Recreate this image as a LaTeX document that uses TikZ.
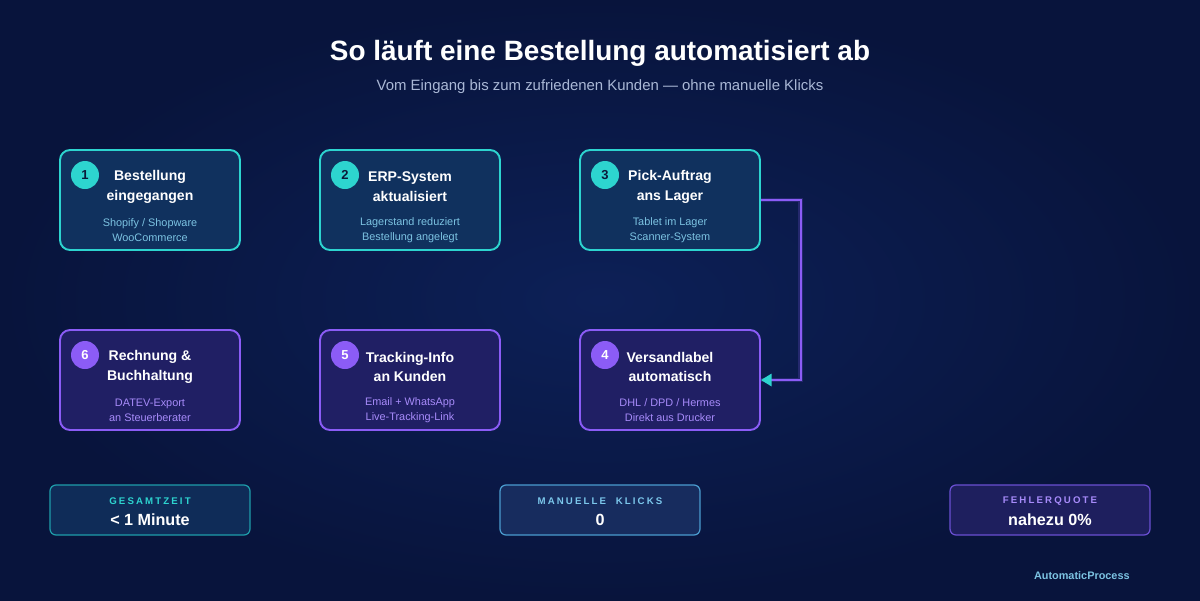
\documentclass[tikz,border=0pt]{standalone}
\usepackage{fontspec}
\setmainfont{Liberation Sans}
\newfontfamily\spacedfont[LetterSpace=22]{Liberation Sans}
\usetikzlibrary{arrows.meta}
\definecolor{bginner}{HTML}{0D2057}
\definecolor{bgouter}{HTML}{08143C}
\definecolor{tealline}{HTML}{2DD4CF}
\definecolor{tealfill}{HTML}{10315E}
\definecolor{tealtext}{HTML}{7CC3E2}
\definecolor{purpline}{HTML}{8B5CF6}
\definecolor{purpfill}{HTML}{201F64}
\definecolor{purptext}{HTML}{A78BFA}
\definecolor{navytext}{HTML}{0B1A3A}
\definecolor{subtitle}{HTML}{AAB8D6}
\definecolor{midline}{HTML}{4A9CCF}
\definecolor{midfill}{HTML}{172C5E}
\definecolor{midtext}{HTML}{7CC8EC}
\definecolor{statteal}{HTML}{1E9DAA}
\definecolor{stattealfill}{HTML}{0F2C58}
\definecolor{statpurp}{HTML}{6A4FD2}
\definecolor{statpurpfill}{HTML}{1E1F5E}
\pgfdeclarelayer{edgelayer}
\pgfdeclarelayer{nodelayer}
\pgfsetlayers{edgelayer,main,nodelayer}
\tikzstyle{tealbox}=[draw=tealline, fill=tealfill, line width=1.1pt, rounded corners=5.7pt, minimum width=3.6cm, minimum height=2cm]
\tikzstyle{purpbox}=[draw=purpline, fill=purpfill, line width=1.1pt, rounded corners=5.7pt, minimum width=3.6cm, minimum height=2cm]
\tikzstyle{tealbadge}=[circle, fill=tealline, minimum size=0.56cm, inner sep=0pt, text=navytext, font=\fontsize{7.4}{8}\selectfont\bfseries]
\tikzstyle{purpbadge}=[circle, fill=purpline, minimum size=0.56cm, inner sep=0pt, text=white, font=\fontsize{7.4}{8}\selectfont\bfseries]
\tikzstyle{boxtitle}=[align=center, inner sep=0pt, text=white, font=\fontsize{8.0}{11.3}\selectfont\bfseries]
\tikzstyle{tealsub}=[align=center, inner sep=0pt, text=tealtext, font=\fontsize{6.2}{8.5}\selectfont]
\tikzstyle{purpsub}=[align=center, inner sep=0pt, text=purptext, font=\fontsize{6.2}{8.5}\selectfont]
\tikzstyle{statbox}=[line width=0.7pt, rounded corners=3.4pt, minimum width=4cm, minimum height=1cm]
\tikzstyle{statlabel}=[inner sep=0pt, font=\fontsize{5.5}{6}\spacedfont\bfseries]
\tikzstyle{statvalue}=[inner sep=0pt, text=white, font=\fontsize{9.2}{10}\selectfont\bfseries]
\tikzstyle{flow}=[draw=purpline, line width=1.1pt]

\begin{document}
\begin{tikzpicture}[x=0.02cm, y=-0.02cm]
	\begin{pgfonlayer}{edgelayer}
		\shade [inner color=bginner, outer color=bgouter] (0,0) rectangle (1200,600);
		\useasboundingbox (0,0) rectangle (1200,600);
	\end{pgfonlayer}
	% heading
	\node [text=white, font=\fontsize{15.9}{18}\selectfont\bfseries] (title) at (600,53) {So läuft eine Bestellung automatisiert ab};
	\node [text=subtitle, font=\fontsize{8.5}{10}\selectfont] (subtitle) at (600,87) {Vom Eingang bis zum zufriedenen Kunden — ohne manuelle Klicks};
	% steps
	\node [style=tealbox] (s1) at (150,200) {};
	\node [style=tealbox] (s2) at (410,200) {};
	\node [style=tealbox] (s3) at (670,200) {};
	\node [style=purpbox] (s4) at (670,380) {};
	\node [style=purpbox] (s5) at (410,380) {};
	\node [style=purpbox] (s6) at (150,380) {};
	\begin{pgfonlayer}{nodelayer}
		\node [style=tealbadge] (b1) at (85,175) {1};
		\node [style=tealbadge] (b2) at (345,175) {2};
		\node [style=tealbadge] (b3) at (605,175) {3};
		\node [style=purpbadge] (b4) at (605,355) {4};
		\node [style=purpbadge] (b5) at (345,355) {5};
		\node [style=purpbadge] (b6) at (85,355) {6};
		\node [style=boxtitle] (t1) at (150,187) {Bestellung\\eingegangen};
		\node [style=boxtitle] (t2) at (410,187) {ERP-System\\aktualisiert};
		\node [style=boxtitle] (t3) at (670,187) {Pick-Auftrag\\ans Lager};
		\node [style=boxtitle] (t4) at (670,367) {Versandlabel\\automatisch};
		\node [style=boxtitle] (t5) at (410,367) {Tracking-Info\\an Kunden};
		\node [style=boxtitle] (t6) at (150,367) {Rechnung \&\\Buchhaltung};
		\node [style=tealsub] (u1) at (150,230) {Shopify / Shopware\\WooCommerce};
		\node [style=tealsub] (u2) at (410,230) {Lagerstand reduziert\\Bestellung angelegt};
		\node [style=tealsub] (u3) at (670,230) {Tablet im Lager\\Scanner-System};
		\node [style=purpsub] (u4) at (670,410) {DHL / DPD / Hermes\\Direkt aus Drucker};
		\node [style=purpsub] (u5) at (410,410) {Email + WhatsApp\\Live-Tracking-Link};
		\node [style=purpsub] (u6) at (150,410) {DATEV-Export\\an Steuerberater};
	\end{pgfonlayer}
	% connector 3 -> 4
	\begin{pgfonlayer}{edgelayer}
		\draw [draw=purpline, line width=2.8pt, opacity=0.2] (s3.east) -- ++(40,0) |- (s4.east);
	\end{pgfonlayer}
	\draw [style=flow, -{Triangle[color=tealline, length=6pt, width=7pt]}] (s3.east) -- ++(40,0) |- (s4.east);
	% stats
	\node [style=statbox, draw=statteal, fill=stattealfill] (g) at (150,510) {};
	\node [style=statbox, draw=midline, fill=midfill] (k) at (600,510) {};
	\node [style=statbox, draw=statpurp, fill=statpurpfill] (f) at (1050,510) {};
	\node [style=statlabel, text=tealline] (gl) at (150,501) {GESAMTZEIT};
	\node [style=statlabel, text=midtext] (kl) at (600,501) {MANUELLE\ \ KLICKS};
	\node [style=statlabel, text=purptext] (fl) at (1050,501) {FEHLERQUOTE};
	\node [style=statvalue] (gv) at (150,520) {< 1 Minute};
	\node [style=statvalue] (kv) at (600,520) {0};
	\node [style=statvalue] (fv) at (1050,520) {nahezu 0\%};
	% footer
	\node [anchor=east, inner sep=0pt, text=tealtext, font=\fontsize{6.2}{7}\selectfont\bfseries] (brand) at (1130,576) {AutomaticProcess};
\end{tikzpicture}
\end{document}
